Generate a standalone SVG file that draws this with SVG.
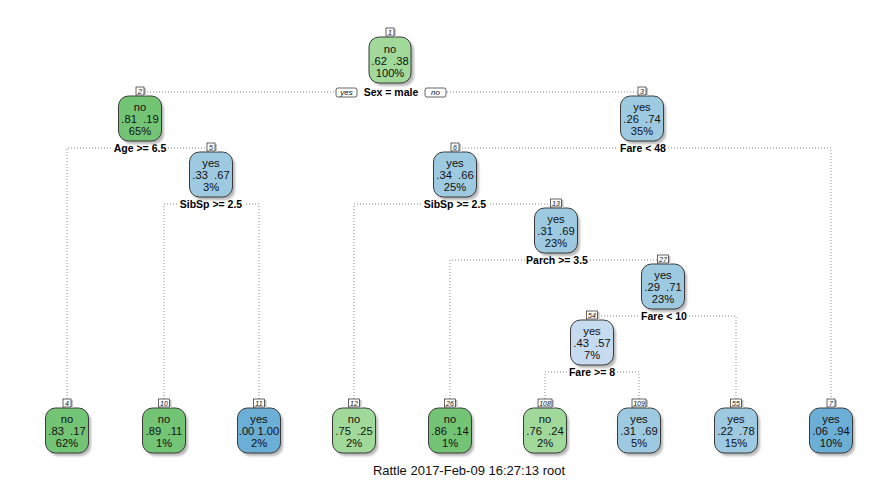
<svg xmlns="http://www.w3.org/2000/svg" width="870" height="483" viewBox="0 0 870 483">
  <defs>
    <filter id="soft" x="-20%" y="-20%" width="140%" height="140%">
      <feGaussianBlur stdDeviation="1"/>
    </filter>
    <style>
      .shadow { fill: #b8b8b8; filter: url(#soft); }
      .box { stroke: #3a3a3a; stroke-width: 1; }
      .g1 { fill: #a1d99b; }
      .g2 { fill: #74c476; }
      .b1 { fill: #6baed6; }
      .b2 { fill: #9ecae1; }
      .b3 { fill: #c6dbef; }
      .nt { font-family: "Liberation Sans", Arial, sans-serif; font-size: 11.2px; fill: #111; text-anchor: middle; white-space: pre; }
      .lab { fill: #fff; stroke: #222; stroke-width: 0.7; }
      .labsh { fill: #c4c4c4; }
      .lt { font-family: "Liberation Sans", Arial, sans-serif; font-size: 7px; font-style: italic; fill: #111; text-anchor: middle; }
      .split { font-family: "Liberation Sans", Arial, sans-serif; font-size: 10.5px; font-weight: bold; fill: #000; text-anchor: middle; }
      .dot { fill: none; stroke: #8a8a8a; stroke-width: 1; stroke-dasharray: 1 2; }
      .yn { fill: #fff; stroke: #222; stroke-width: 0.7; }
      .ynt { font-family: "Liberation Sans", Arial, sans-serif; font-size: 8px; font-style: italic; fill: #111; text-anchor: middle; }
      .foot { font-family: "Liberation Sans", Arial, sans-serif; font-size: 13px; fill: #111; text-anchor: middle; }
    </style>
  </defs>

  <rect width="870" height="483" fill="#fff"/>

  <!-- dotted branch lines -->
  <g id="connectors">
    <path class="dot" d="M144,92 H335 M447,92 H638"/>
    <path class="dot" d="M67,399 V148 H111 M168,148 H207"/>
    <path class="dot" d="M164,399 V204 H177 M246,204 H259 V399"/>
    <path class="dot" d="M459,148 H618 M668,148 H831 V399"/>
    <path class="dot" d="M354,399 V204 H421 M490,204 H550"/>
    <path class="dot" d="M450,399 V260 H525 M590,260 H657"/>
    <path class="dot" d="M598,316 H640 M689,316 H736 V399"/>
    <path class="dot" d="M545,399 V372 H567 M617,372 H639 V399"/>
  </g>

  <!-- split labels -->
  <g id="splits">
    <rect class="yn" x="336" y="88" width="21" height="9" rx="2"/>
    <text class="ynt" x="346.5" y="95">yes</text>
    <text class="split" x="391" y="96">Sex = male</text>
    <rect class="yn" x="425" y="88" width="21" height="9" rx="2"/>
    <text class="ynt" x="435.5" y="95">no</text>
    <text class="split" x="140" y="152">Age &gt;= 6.5</text>
    <text class="split" x="211" y="208">SibSp &gt;= 2.5</text>
    <text class="split" x="643" y="152">Fare &lt; 48</text>
    <text class="split" x="455" y="208">SibSp &gt;= 2.5</text>
    <text class="split" x="557" y="264">Parch &gt;= 3.5</text>
    <text class="split" x="664" y="320">Fare &lt; 10</text>
    <text class="split" x="592" y="376">Fare &gt;= 8</text>
  </g>

  <g id="node1">
    <rect class="shadow" x="372" y="40" width="42" height="46" rx="10"/>
    <rect class="box g1" x="369" y="37" width="42" height="46" rx="10"/>
    <text class="nt" x="390" y="52.5">no</text>
    <text class="nt" x="390" y="64.5">.62  .38</text>
    <text class="nt" x="390" y="76.5">100%</text>
    <rect class="labsh" x="388" y="29" width="8" height="8"/>
    <rect class="lab" x="386" y="28" width="8" height="8"/>
    <text class="lt" x="390" y="34.5">1</text>
  </g>

  <g id="node2">
    <rect class="shadow" x="121" y="99" width="43" height="45" rx="10"/>
    <rect class="box g2" x="118.5" y="96" width="43" height="45" rx="10"/>
    <text class="nt" x="140" y="110.5">no</text>
    <text class="nt" x="140" y="122.5">.81  .19</text>
    <text class="nt" x="140" y="134.5">65%</text>
    <rect class="labsh" x="138" y="88" width="8" height="8"/>
    <rect class="lab" x="136" y="87" width="8" height="8"/>
    <text class="lt" x="140" y="93.5">2</text>
  </g>

  <g id="node3">
    <rect class="shadow" x="623" y="99" width="43" height="45" rx="10"/>
    <rect class="box b2" x="620.5" y="96" width="43" height="45" rx="10"/>
    <text class="nt" x="642" y="110.5">yes</text>
    <text class="nt" x="642" y="122.5">.26  .74</text>
    <text class="nt" x="642" y="134.5">35%</text>
    <rect class="labsh" x="640" y="88" width="8" height="8"/>
    <rect class="lab" x="638" y="87" width="8" height="8"/>
    <text class="lt" x="642" y="93.5">3</text>
  </g>

  <g id="node5">
    <rect class="shadow" x="192" y="155" width="43" height="45" rx="10"/>
    <rect class="box b2" x="189.5" y="152" width="43" height="45" rx="10"/>
    <text class="nt" x="211" y="166.5">yes</text>
    <text class="nt" x="211" y="178.5">.33  .67</text>
    <text class="nt" x="211" y="190.5">3%</text>
    <rect class="labsh" x="209" y="144" width="8" height="8"/>
    <rect class="lab" x="207" y="143" width="8" height="8"/>
    <text class="lt" x="211" y="149.5">5</text>
  </g>

  <g id="node6">
    <rect class="shadow" x="436" y="155" width="43" height="45" rx="10"/>
    <rect class="box b2" x="433.5" y="152" width="43" height="45" rx="10"/>
    <text class="nt" x="455" y="166.5">yes</text>
    <text class="nt" x="455" y="178.5">.34  .66</text>
    <text class="nt" x="455" y="190.5">25%</text>
    <rect class="labsh" x="453" y="144" width="8" height="8"/>
    <rect class="lab" x="451" y="143" width="8" height="8"/>
    <text class="lt" x="455" y="149.5">6</text>
  </g>

  <g id="node13">
    <rect class="shadow" x="537" y="211" width="43" height="45" rx="10"/>
    <rect class="box b2" x="534.5" y="208" width="43" height="45" rx="10"/>
    <text class="nt" x="556" y="222.5">yes</text>
    <text class="nt" x="556" y="234.5">.31  .69</text>
    <text class="nt" x="556" y="246.5">23%</text>
    <rect class="labsh" x="552.5" y="200" width="11" height="8"/>
    <rect class="lab" x="550.5" y="199" width="11" height="8"/>
    <text class="lt" x="556" y="205.5">13</text>
  </g>

  <g id="node27">
    <rect class="shadow" x="644" y="267" width="43" height="45" rx="10"/>
    <rect class="box b2" x="641.5" y="264" width="43" height="45" rx="10"/>
    <text class="nt" x="663" y="278.5">yes</text>
    <text class="nt" x="663" y="290.5">.29  .71</text>
    <text class="nt" x="663" y="302.5">23%</text>
    <rect class="labsh" x="659.5" y="256" width="11" height="8"/>
    <rect class="lab" x="657.5" y="255" width="11" height="8"/>
    <text class="lt" x="663" y="261.5">27</text>
  </g>

  <g id="node54">
    <rect class="shadow" x="573" y="323" width="43" height="45" rx="10"/>
    <rect class="box b3" x="570.5" y="320" width="43" height="45" rx="10"/>
    <text class="nt" x="592" y="334.5">yes</text>
    <text class="nt" x="592" y="346.5">.43  .57</text>
    <text class="nt" x="592" y="358.5">7%</text>
    <rect class="labsh" x="588.5" y="312" width="11" height="8"/>
    <rect class="lab" x="586.5" y="311" width="11" height="8"/>
    <text class="lt" x="592" y="317.5">54</text>
  </g>

  <!-- leaves -->
  <g id="node4">
    <rect class="shadow" x="48" y="411" width="43" height="45" rx="10"/>
    <rect class="box g2" x="45.5" y="408" width="43" height="45" rx="10"/>
    <text class="nt" x="67" y="422.5">no</text>
    <text class="nt" x="67" y="434.5">.83  .17</text>
    <text class="nt" x="67" y="446.5">62%</text>
    <rect class="labsh" x="65" y="400" width="8" height="8"/>
    <rect class="lab" x="63" y="399" width="8" height="8"/>
    <text class="lt" x="67" y="405.5">4</text>
  </g>

  <g id="node10">
    <rect class="shadow" x="145" y="411" width="43" height="45" rx="10"/>
    <rect class="box g2" x="142.5" y="408" width="43" height="45" rx="10"/>
    <text class="nt" x="164" y="422.5">no</text>
    <text class="nt" x="164" y="434.5">.89  .11</text>
    <text class="nt" x="164" y="446.5">1%</text>
    <rect class="labsh" x="160.5" y="400" width="11" height="8"/>
    <rect class="lab" x="158.5" y="399" width="11" height="8"/>
    <text class="lt" x="164" y="405.5">10</text>
  </g>

  <g id="node11">
    <rect class="shadow" x="240" y="411" width="43" height="45" rx="10"/>
    <rect class="box b1" x="237.5" y="408" width="43" height="45" rx="10"/>
    <text class="nt" x="259" y="422.5">yes</text>
    <text class="nt" x="259" y="434.5">.00 1.00</text>
    <text class="nt" x="259" y="446.5">2%</text>
    <rect class="labsh" x="255.5" y="400" width="11" height="8"/>
    <rect class="lab" x="253.5" y="399" width="11" height="8"/>
    <text class="lt" x="259" y="405.5">11</text>
  </g>

  <g id="node12">
    <rect class="shadow" x="335" y="411" width="43" height="45" rx="10"/>
    <rect class="box g1" x="332.5" y="408" width="43" height="45" rx="10"/>
    <text class="nt" x="354" y="422.5">no</text>
    <text class="nt" x="354" y="434.5">.75  .25</text>
    <text class="nt" x="354" y="446.5">2%</text>
    <rect class="labsh" x="350.5" y="400" width="11" height="8"/>
    <rect class="lab" x="348.5" y="399" width="11" height="8"/>
    <text class="lt" x="354" y="405.5">12</text>
  </g>

  <g id="node26">
    <rect class="shadow" x="431" y="411" width="43" height="45" rx="10"/>
    <rect class="box g2" x="428.5" y="408" width="43" height="45" rx="10"/>
    <text class="nt" x="450" y="422.5">no</text>
    <text class="nt" x="450" y="434.5">.86  .14</text>
    <text class="nt" x="450" y="446.5">1%</text>
    <rect class="labsh" x="446.5" y="400" width="11" height="8"/>
    <rect class="lab" x="444.5" y="399" width="11" height="8"/>
    <text class="lt" x="450" y="405.5">26</text>
  </g>

  <g id="node108">
    <rect class="shadow" x="526" y="411" width="43" height="45" rx="10"/>
    <rect class="box g1" x="523.5" y="408" width="43" height="45" rx="10"/>
    <text class="nt" x="545" y="422.5">no</text>
    <text class="nt" x="545" y="434.5">.76  .24</text>
    <text class="nt" x="545" y="446.5">2%</text>
    <rect class="labsh" x="540" y="400" width="14" height="8"/>
    <rect class="lab" x="538" y="399" width="14" height="8"/>
    <text class="lt" x="545" y="405.5">108</text>
  </g>

  <g id="node109">
    <rect class="shadow" x="620" y="411" width="43" height="45" rx="10"/>
    <rect class="box b2" x="617.5" y="408" width="43" height="45" rx="10"/>
    <text class="nt" x="639" y="422.5">yes</text>
    <text class="nt" x="639" y="434.5">.31  .69</text>
    <text class="nt" x="639" y="446.5">5%</text>
    <rect class="labsh" x="634" y="400" width="14" height="8"/>
    <rect class="lab" x="632" y="399" width="14" height="8"/>
    <text class="lt" x="639" y="405.5">109</text>
  </g>

  <g id="node55">
    <rect class="shadow" x="717" y="411" width="43" height="45" rx="10"/>
    <rect class="box b2" x="714.5" y="408" width="43" height="45" rx="10"/>
    <text class="nt" x="736" y="422.5">yes</text>
    <text class="nt" x="736" y="434.5">.22  .78</text>
    <text class="nt" x="736" y="446.5">15%</text>
    <rect class="labsh" x="732.5" y="400" width="11" height="8"/>
    <rect class="lab" x="730.5" y="399" width="11" height="8"/>
    <text class="lt" x="736" y="405.5">55</text>
  </g>

  <g id="node7">
    <rect class="shadow" x="812" y="411" width="43" height="45" rx="10"/>
    <rect class="box b1" x="809.5" y="408" width="43" height="45" rx="10"/>
    <text class="nt" x="831" y="422.5">yes</text>
    <text class="nt" x="831" y="434.5">.06  .94</text>
    <text class="nt" x="831" y="446.5">10%</text>
    <rect class="labsh" x="829" y="400" width="8" height="8"/>
    <rect class="lab" x="827" y="399" width="8" height="8"/>
    <text class="lt" x="831" y="405.5">7</text>
  </g>

  <text class="foot" x="469" y="475">Rattle 2017-Feb-09 16:27:13 root</text>
</svg>
